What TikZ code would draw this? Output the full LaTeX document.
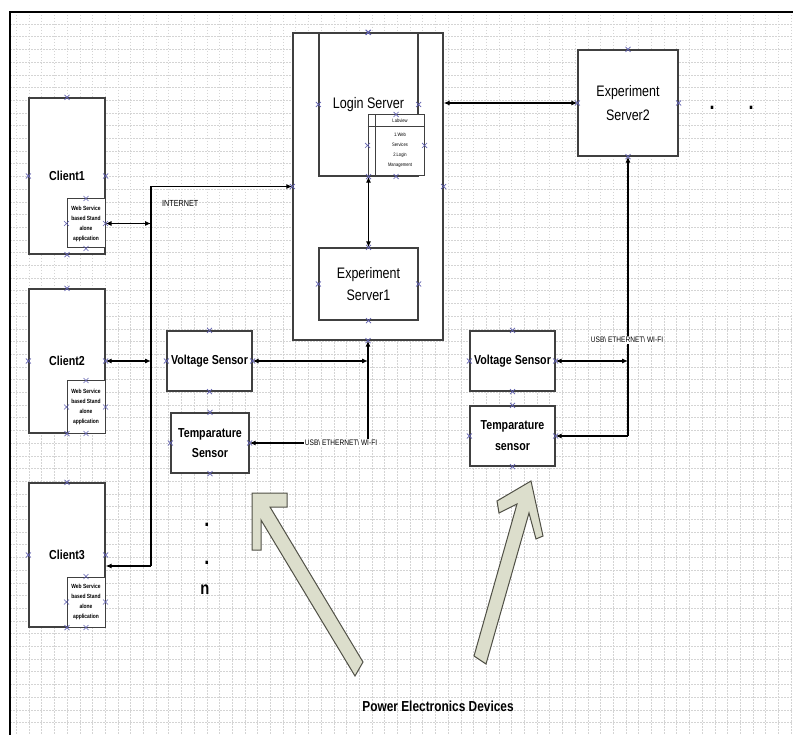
\documentclass[tikz,border=0pt]{standalone}
\usepackage{fontspec}
\setmainfont{Liberation Sans}[FakeStretch=0.82]
\usetikzlibrary{arrows.meta,positioning}

\newcommand\wsfont{\bfseries\fontsize{6}{10}\selectfont}
\newcommand\usbtext{USB\textbackslash{} ETHERNET\textbackslash{} WI-FI}

\begin{document}
\begin{tikzpicture}[x=1pt,y=-1pt,
  box/.style={draw=boxstroke,fill=white,line width=1.3pt,inner sep=1pt,align=center},
  wsbox/.style={box,line width=1pt,minimum width=38pt,font=\wsfont},
  link/.style={draw=black,line width=1.1pt,-{Latex[length=6pt,width=5pt]}},
  twolink/.style={link,{Latex[length=6pt,width=5pt]}-{Latex[length=6pt,width=5pt]}},
  gridline/.style={draw=gridgray,line width=0.5pt,dash pattern=on 1.5pt off 1.5pt},
  vmark/.style={draw=markblue,line width=0.7pt},
  bigarrow/.style={fill=arrowfill,draw=arrowstroke,line width=1pt,line join=miter},
  lbl/.style={inner sep=1pt}]
  \definecolor{boxstroke}{RGB}{64,64,64}
  \definecolor{gridgray}{RGB}{212,212,212}
  \definecolor{markblue}{RGB}{95,95,175}
  \definecolor{arrowfill}{RGB}{220,222,204}
  \definecolor{arrowstroke}{RGB}{80,80,70}
  \useasboundingbox (0,0) rectangle (793,735);
  \fill[white] (0,0) rectangle (793,735);
  \foreach \gx in {16.3,29,...,793} \draw[gridline] (\gx,12) -- (\gx,735);
  \foreach \gy in {24,36.7,...,735} \draw[gridline] (10,\gy) -- (793,\gy);
  \draw[line width=2.2pt] (10,735) -- (10,12) -- (793,12);

  \draw[bigarrow] (252,493) -- (287,493) -- (287,507) -- (270,507) -- (363,662)
    -- (355,676) -- (261,520) -- (261,550) -- (252,550) -- cycle;
  \draw[bigarrow] (531,481) -- (543,536) -- (536,539) -- (529,513) -- (486,664)
    -- (474,656) -- (517,504) -- (499,513) -- (497,501) -- cycle;

  \node[box,minimum width=76pt,minimum height=156pt,font=\bfseries\fontsize{13}{14}\selectfont] (client1) at (67,176) {Client1};
  \node[wsbox,minimum height=49pt] (ws1) at (86,223.5) {Web Service\\based Stand\\alone\\application};
  \node[box,minimum width=76pt,minimum height=144pt,font=\bfseries\fontsize{13}{14}\selectfont] (client2) at (67,361) {Client2};
  \node[wsbox,minimum height=52pt] (ws2) at (86,407) {Web Service\\based Stand\\alone\\application};
  \node[box,minimum width=76pt,minimum height=144pt,font=\bfseries\fontsize{13}{14}\selectfont] (client3) at (67,555) {Client3};
  \node[wsbox,minimum height=50pt] (ws3) at (86,602) {Web Service\\based Stand\\alone\\application};

  \node[box,minimum width=150pt,minimum height=307pt] (server) at (368,186.5) {};
  \node[box,minimum width=99pt,minimum height=143pt,font=\fontsize{15.3}{17}\selectfont] (login) at (368.5,104.5) {Login Server};
  \node[box,line width=1pt,minimum width=56pt,minimum height=61pt] (labbox) at (396,145.5) {};
  \draw[boxstroke,line width=0.8pt] ([xshift=8pt]labbox.north west) -- ([xshift=8pt]labbox.south west);
  \draw[boxstroke,line width=0.8pt] ([yshift=-12pt]labbox.north west) -- ([yshift=-12pt]labbox.north east);
  \node[lbl,font=\fontsize{5}{6}\selectfont] (labhead) at (400,121) {Labview};
  \node[lbl,align=center,font=\fontsize{5}{10}\selectfont] (labitems) at (400,150.5) {1.Web\\Services\\2.Login\\Management};
  \node[box,minimum width=99pt,minimum height=72pt,font=\fontsize{15.2}{22}\selectfont] (es1) at (368.5,284) {Experiment\\Server1};
  \node[box,minimum width=100pt,minimum height=106pt,font=\fontsize{15.2}{24}\selectfont] (es2) at (628,103) {Experiment\\Server2};

  \node[box,minimum width=85pt,minimum height=60pt,font=\bfseries\fontsize{13}{15}\selectfont] (vs1) at (209.5,361) {Voltage Sensor};
  \node[box,minimum width=78pt,minimum height=60pt,font=\bfseries\fontsize{13}{20}\selectfont] (ts1) at (210,443) {Temparature\\Sensor};
  \node[box,minimum width=85pt,minimum height=60pt,font=\bfseries\fontsize{13}{15}\selectfont] (vs2) at (512.5,361) {Voltage Sensor};
  \node[box,minimum width=85pt,minimum height=60pt,font=\bfseries\fontsize{13}{21}\selectfont] (ts2) at (512.5,436) {Temparature\\sensor};

  \coordinate (bus) at (151,566);
  \draw[twolink] (ws1.east) -- (ws1.east -| bus);
  \draw[twolink] (client2.east) -- (client2.east -| bus);
  \draw[link] (bus) -- (bus -| client3.east);
  \draw[link] (bus) |- (server.west);
  \node[lbl,anchor=west,font=\fontsize{8.8}{10}\selectfont] (internet) at (161,203) {INTERNET};
  \draw[twolink] (login.south) -- (es1.north);
  \draw[twolink] (server.east |- es2.west) -- (es2.west);

  \draw[twolink] (vs1.east) -- (vs1.east -| server.south);
  \coordinate (usb1) at (ts1.east -| server.south);
  \draw[link] (usb1) -- (server.south);
  \draw[link] (usb1) -- (ts1.east);
  \node[lbl,fill=white,font=\fontsize{8}{10}\selectfont] (usblabel1) at (341,443) {\usbtext};

  \draw[twolink] (vs2.east) -- (vs2.east -| es2.south);
  \coordinate (usb2) at (ts2.east -| es2.south);
  \draw[link] (usb2) -- (es2.south);
  \draw[link] (usb2) -- (ts2.east);
  \node[lbl,fill=white,font=\fontsize{8}{10}\selectfont] (usblabel2) at (627,340) {\usbtext};

  \foreach \n in {client1,client2,client3,ws1,ws2,ws3,server,login,labbox,es1,es2,vs1,ts1,vs2,ts2}
    \foreach \a in {north,south,east,west}
      \draw[vmark] (\n.\a) +(-2.5,-2.5) -- +(2.5,2.5) +(-2.5,2.5) -- +(2.5,-2.5);

  \node[lbl,font=\bfseries\fontsize{22}{24}\selectfont] (dota) at (712,108) {.};
  \node[lbl,font=\bfseries\fontsize{22}{24}\selectfont] (dotb) at (751,108) {.};
  \node[lbl,font=\bfseries\fontsize{22}{24}\selectfont] (dotc) at (207,525) {.};
  \node[lbl,font=\bfseries\fontsize{22}{24}\selectfont] (dotd) at (207,563) {.};
  \node[lbl,font=\bfseries\fontsize{18}{20}\selectfont] (nlabel) at (205,590) {n};
  \node[lbl,font=\bfseries\fontsize{14.5}{16}\selectfont] (pedev) at (438,706) {Power Electronics Devices};
\end{tikzpicture}
\end{document}
